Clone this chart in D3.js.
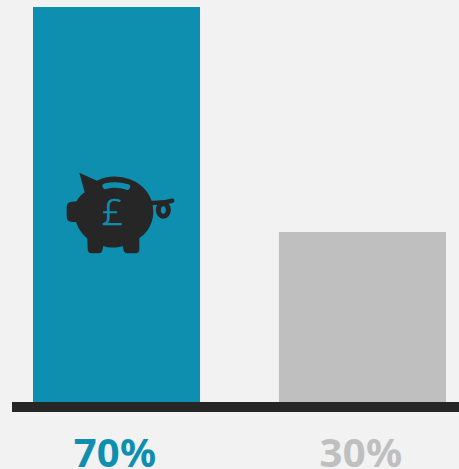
<!DOCTYPE html>
<html>
<head>
<meta charset="utf-8">
<script src="https://cdn.jsdelivr.net/npm/d3@7/dist/d3.min.js"></script>
<style>
html,body{margin:0;padding:0;background:#f2f2f2;overflow:hidden}
svg{display:block}
</style>
</head>
<body>
<svg id="chart" width="459" height="469"></svg>
<script>
const categories = ["savers", "others"];
const shares = [70, 30];
const barColors = ["#0f8fb0", "#bfbfbf"];
const dark = "#262626";

const svg = d3.select("#chart");
const baseline = 402;

const x = d3.scaleBand().domain(categories).range([33, 446]).paddingInner(0.321).paddingOuter(0);
const y = d3.scaleLinear().domain([0, 70]).range([baseline, 7]);
// Bar tops snap to whole pixels so their edges stay crisp
const barTop = v => Math.floor(y(v));

svg.selectAll("rect.bar")
  .data(categories)
  .join("rect")
  .attr("class", "bar")
  .attr("x", d => x(d))
  .attr("width", x.bandwidth())
  .attr("y", (d, i) => barTop(shares[i]))
  .attr("height", (d, i) => baseline - barTop(shares[i]))
  .attr("fill", (d, i) => barColors[i]);

// Baseline rule running off the right edge
svg.append("rect")
  .attr("x", 12).attr("y", baseline)
  .attr("width", 447).attr("height", 10)
  .attr("fill", dark);

svg.selectAll("text.share")
  .data(categories)
  .join("text")
  .attr("class", "share")
  .attr("x", d => x(d) + x.bandwidth() / 2 - 1.5)
  .attr("y", 467)
  .attr("text-anchor", "middle")
  .attr("font-family", "'Noto Sans', sans-serif")
  .attr("font-weight", 700)
  .attr("font-size", 40)
  .attr("letter-spacing", 0.3)
  .attr("fill", (d, i) => barColors[i])
  .text((d, i) => shares[i] + "%");

// Piggy bank icon, drawn in a 3x local grid
const teal = barColors[0];
const pig = svg.append("g")
  .attr("transform", `translate(${x("savers") + 17},160) scale(${1 / 3})`);

pig.append("path")
  .attr("fill", dark)
  .attr("d", "M88 38 L141 62 C160 52 180 49 200 50 C266 52 312 100 310 158 C308 200 284 224 268 234 L268 268 Q268 280 256 280 L232 280 Q222 280 220 268 L218 258 C200 264 178 264 160 258 L158 268 Q156 280 146 280 L124 280 Q114 280 113 268 L112 236 C96 222 84 206 78 186 L66 186 Q50 184 50 170 L50 142 Q50 126 66 125 L80 124 C86 112 94 104 104 97 Z");

// Tail: a short stem ending in a curled loop
pig.append("path")
  .attr("fill", "none")
  .attr("stroke", dark)
  .attr("stroke-width", 13)
  .attr("stroke-linecap", "round")
  .attr("d", "M302 129 C325 128 345 129 367 122");

pig.append("ellipse")
  .attr("cx", 340).attr("cy", 150)
  .attr("rx", 15).attr("ry", 19)
  .attr("fill", "none")
  .attr("stroke", dark)
  .attr("stroke-width", 15);

// Coin slot
pig.append("path")
  .attr("fill", "none")
  .attr("stroke", teal)
  .attr("stroke-width", 17)
  .attr("stroke-linecap", "round")
  .attr("d", "M166 79 Q198 70 232 81");

pig.append("text")
  .attr("x", 187)
  .attr("y", 195)
  .attr("text-anchor", "middle")
  .attr("font-family", "'Open Sans', sans-serif")
  .attr("font-weight", 300)
  .attr("font-size", 112)
  .attr("fill", teal)
  .attr("stroke", teal)
  .attr("stroke-width", 2)
  .text("£");
</script>
</body>
</html>
